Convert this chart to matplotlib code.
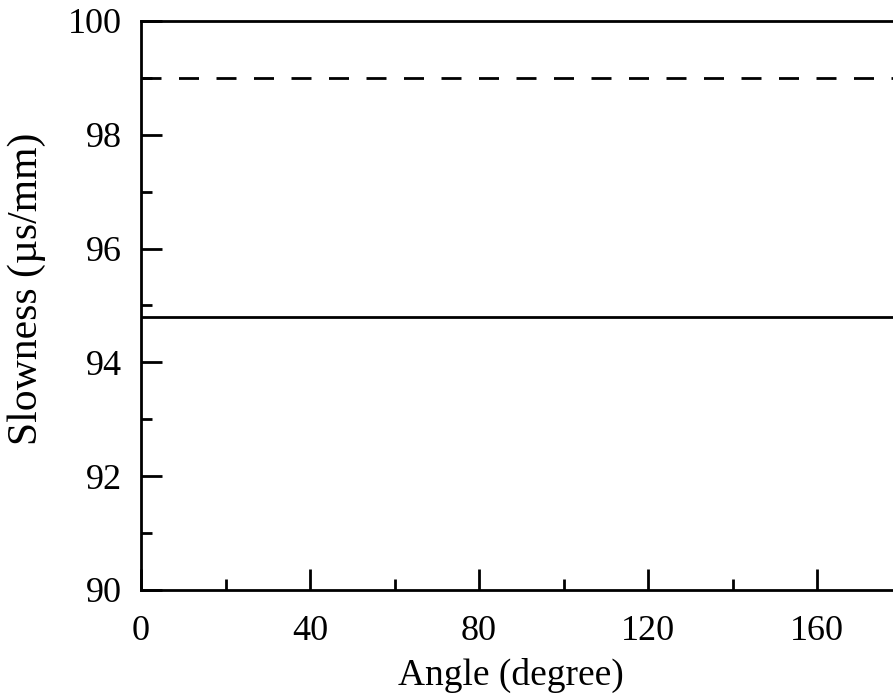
import matplotlib
matplotlib.use("Agg")
import matplotlib.pyplot as plt
from matplotlib.ticker import MultipleLocator

plt.rcParams['font.family'] = ['Liberation Serif', 'DejaVu Serif']

angle = [0, 45, 90, 135, 180]
slowness_solid = [94.8, 94.8, 94.8, 94.8, 94.8]
slowness_dashed = [99.0, 99.0, 99.0, 99.0, 99.0]

x_ticks = [0, 40, 80, 120, 160]
y_ticks = [90, 92, 94, 96, 98, 100]

fig = plt.figure(figsize=(8.93, 6.96), dpi=100)
ax = fig.add_axes([141/893, (696-590)/696, (901.5-141)/893, 569/696])

ax.plot(angle, slowness_solid, color='black', lw=2.0, solid_capstyle='butt')
ax.plot(angle, slowness_dashed, color='black', lw=2.0, dashes=(7.2, 6.3))

ax.set_xlim(0, 180)
ax.set_ylim(90, 100)
ax.set_xticks(x_ticks)
ax.set_yticks(y_ticks)
ax.xaxis.set_minor_locator(MultipleLocator(20))
ax.yaxis.set_minor_locator(MultipleLocator(1))

for s in ax.spines.values():
    s.set_linewidth(2.0)

ax.tick_params(which='both', direction='in', top=False, right=False, width=2.0, labelsize=26)
ax.tick_params(axis='x', which='major', length=15, pad=18)
ax.tick_params(axis='x', which='minor', length=8)
ax.tick_params(axis='y', which='major', length=15, pad=14)
ax.tick_params(axis='y', which='minor', length=8)

ax.set_xlabel('Angle (degree)', fontsize=27)
ax.set_ylabel('Slowness (\u00b5s/mm)', fontsize=30)
ax.xaxis.set_label_coords(0.4865, -0.1195)
ax.yaxis.set_label_coords(-0.125, 0.529)

fig.savefig('out.png', dpi=100)
